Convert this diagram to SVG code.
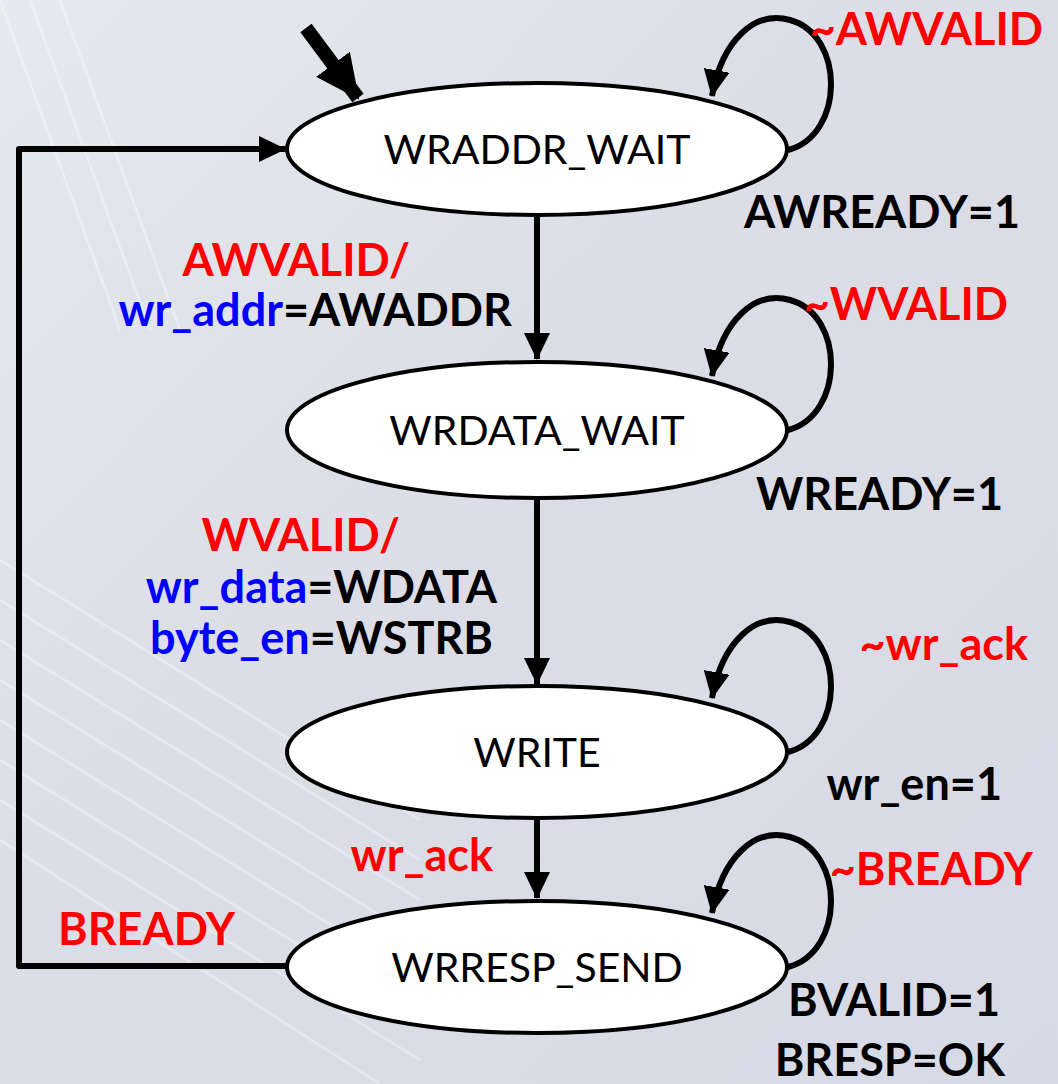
<svg xmlns="http://www.w3.org/2000/svg" width="1058" height="1084" viewBox="0 0 1058 1084">
  <defs>
    <linearGradient id="bg" x1="0" y1="0" x2="1" y2="1">
      <stop offset="0" stop-color="#e4eaee"/>
      <stop offset="0.45" stop-color="#dcdde6"/>
      <stop offset="1" stop-color="#d6dae6"/>
    </linearGradient>
    <marker id="ah" markerUnits="userSpaceOnUse" markerWidth="30" markerHeight="26" refX="26" refY="13" orient="auto">
      <path d="M0,0 L27,13 L0,26 Z" fill="#000"/>
    </marker>
    <marker id="ahBig" markerUnits="userSpaceOnUse" markerWidth="46" markerHeight="46" refX="42" refY="23" orient="auto">
      <path d="M0,2 L44,23 L0,44 Z" fill="#000"/>
    </marker>
    <style>
      .state { fill: #fff; stroke: #000; stroke-width: 4; }
      .stname { font-family: Lato, "Open Sans", sans-serif; font-size: 41px; fill: #000; text-anchor: middle; }
      .edge { fill: none; stroke: #000; stroke-width: 6; }
      .lbl { font-family: Lato, "Noto Sans", sans-serif; font-size: 45px; font-weight: bold; }
      .red { fill: #ff0000; }
      .blue { fill: #0000ff; }
      .blk { fill: #000; }
    </style>
  </defs>

  <!-- backdrop -->
  <rect x="0" y="0" width="1058" height="1084" fill="url(#bg)"/>
  <g opacity="0.3" stroke="#ffffff" stroke-width="3" fill="none">
    <path d="M0,560 L420,820 M0,600 L420,860 M0,640 L420,900 M0,680 L420,940 M0,720 L420,980 M0,760 L420,1020 M0,800 L420,1060 M0,840 L380,1084"/>
    <path d="M0,0 L120,330 M30,0 L150,330 M60,0 L180,330"/>
  </g>

  <!-- connectors -->
  <g id="connectors">
    <!-- initial entry -->
    <path d="M306,28 L358,98" fill="none" stroke="#000" stroke-width="14" marker-end="url(#ahBig)"/>
    <!-- forward transitions -->
    <path class="edge" d="M537,215 L537,359" marker-end="url(#ah)"/>
    <path class="edge" d="M537,498 L537,684" marker-end="url(#ah)"/>
    <path class="edge" d="M537,819 L537,898" marker-end="url(#ah)"/>
    <!-- return to idle -->
    <path class="edge" d="M287,966 L19,966 L19,149 L285,149" stroke-linejoin="round" marker-end="url(#ah)"/>
    <!-- self loops -->
    <path class="edge" d="M788,150 C845,135 845,35 790,20 C755,10 722,40 712,96" marker-end="url(#ah)"/>
    <path class="edge" d="M788,430 C845,415 845,315 790,300 C755,290 722,320 712,376" marker-end="url(#ah)"/>
    <path class="edge" d="M788,752 C845,737 845,637 790,622 C755,612 722,642 712,698" marker-end="url(#ah)"/>
    <path class="edge" d="M788,967 C845,952 845,852 790,837 C755,827 722,857 712,913" marker-end="url(#ah)"/>
  </g>

  <!-- states -->
  <g id="WRADDR_WAIT">
    <ellipse class="state" cx="537" cy="149" rx="250" ry="66"/>
    <text class="stname" x="537" y="164">WRADDR_WAIT</text>
  </g>
  <g id="WRDATA_WAIT">
    <ellipse class="state" cx="537" cy="430" rx="250" ry="68"/>
    <text class="stname" x="537" y="445">WRDATA_WAIT</text>
  </g>
  <g id="WRITE">
    <ellipse class="state" cx="537" cy="752" rx="250" ry="66"/>
    <text class="stname" x="537" y="767">WRITE</text>
  </g>
  <g id="WRRESP_SEND">
    <ellipse class="state" cx="537" cy="967" rx="250" ry="66"/>
    <text class="stname" x="537" y="982">WRRESP_SEND</text>
  </g>

  <!-- transition labels -->
  <g id="labels">
    <text class="lbl red" x="1043" y="45" text-anchor="end">~AWVALID</text>
    <text class="lbl blk" x="1020" y="228" text-anchor="end">AWREADY=1</text>
    <text class="lbl red" x="410" y="276" text-anchor="end">AWVALID/</text>
    <text class="lbl" x="512" y="326" text-anchor="end"><tspan class="blue">wr_addr</tspan><tspan class="blk">=AWADDR</tspan></text>
    <text class="lbl red" x="1008" y="320" text-anchor="end">~WVALID</text>
    <text class="lbl blk" x="1003" y="510" text-anchor="end">WREADY=1</text>
    <text class="lbl red" x="400" y="551" text-anchor="end">WVALID/</text>
    <text class="lbl" x="497" y="603" text-anchor="end"><tspan class="blue">wr_data</tspan><tspan class="blk">=WDATA</tspan></text>
    <text class="lbl" x="493" y="654" text-anchor="end"><tspan class="blue">byte_en</tspan><tspan class="blk">=WSTRB</tspan></text>
    <text class="lbl red" x="1028" y="660" text-anchor="end">~wr_ack</text>
    <text class="lbl blk" x="1002" y="800" text-anchor="end">wr_en=1</text>
    <text class="lbl red" x="493" y="871" text-anchor="end">wr_ack</text>
    <text class="lbl red" x="1033" y="885" text-anchor="end">~BREADY</text>
    <text class="lbl red" x="58" y="945">BREADY</text>
    <text class="lbl blk" x="1000" y="1016" text-anchor="end">BVALID=1</text>
    <text class="lbl blk" x="1005" y="1076" text-anchor="end">BRESP=OK</text>
  </g>
</svg>
